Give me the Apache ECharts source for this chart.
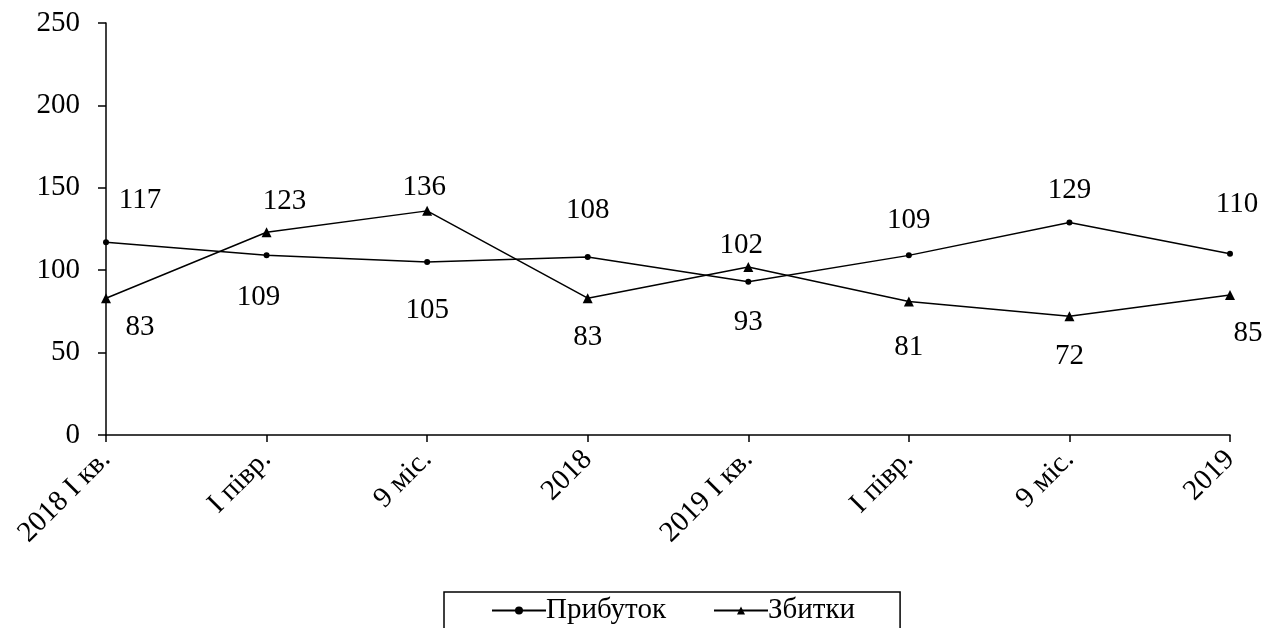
<!DOCTYPE html>
<html><head><meta charset="utf-8">
<script src="https://cdn.jsdelivr.net/npm/echarts@6/dist/echarts.min.js"></script>
<style>html,body{margin:0;padding:0;background:#fff}#c{width:1277px;height:628px}</style>
</head><body><div id="c"></div>
<script>
const categories = ['2018 I кв.', 'I півр.', '9 міс.', '2018', '2019 I кв.', 'I півр.', '9 міс.', '2019'];
const profit = [117, 109, 105, 108, 93, 109, 129, 110];
const losses = [83, 123, 136, 83, 102, 81, 72, 85];
const yTicks = { min: 0, max: 250, interval: 50 };
// label offsets (layout only)
const profitLabelOffsets = [[34,-42],[-8,42],[0,48],[0,-47],[0,41],[0,-35],[0,-32],[7,-49]];
const lossLabelOffsets = [[34,29],[18,-31],[-3,-23],[0,39],[-7,-22],[0,46],[0,40],[18,38]];

const FONT = 'Liberation Serif';
const FS = 29;
function mk(vals, offs) {
  return vals.map((v, i) => ({ value: v, label: { show: true, position: 'inside', offset: offs[i] } }));
}
const chart = echarts.init(document.getElementById('c'));
chart.setOption({
  animation: false,
  textStyle: { fontFamily: FONT, color: '#000' },
  grid: { left: 106, right: 47, top: 23, bottom: 193, containLabel: false },
  xAxis: {
    type: 'category', data: categories, boundaryGap: false,
    axisLine: { lineStyle: { color: '#000', width: 1.5 } },
    axisTick: { show: true, length: 7, alignWithLabel: true, lineStyle: { color: '#000', width: 1.5 } },
    axisLabel: { rotate: 45, fontSize: FS, color: '#000', fontFamily: FONT, margin: 20, interval: 0 }
  },
  yAxis: {
    type: 'value', min: yTicks.min, max: yTicks.max, interval: yTicks.interval,
    axisLine: { show: true, lineStyle: { color: '#000', width: 1.5 } },
    axisTick: { show: true, length: 8, lineStyle: { color: '#000', width: 1.5 } },
    splitLine: { show: false },
    axisLabel: { fontSize: FS, color: '#000', fontFamily: FONT, margin: 26 }
  },
  legend: {
    top: 592, left: 444, itemGap: 47, itemWidth: 54, itemHeight: 10,
    borderColor: '#000', borderWidth: 1.5, borderRadius: 0,
    padding: [4, 45, 4, 47],
    textStyle: { fontSize: FS, color: '#000', fontFamily: FONT, padding: [0, 0, 0, -5] },
    data: ['Прибуток', 'Збитки']
  },
  series: [
    {
      name: 'Прибуток', type: 'line', data: mk(profit, profitLabelOffsets),
      symbol: 'circle', symbolSize: 6, color: '#000',
      lineStyle: { color: '#000', width: 1.5 }, itemStyle: { color: '#000' },
      label: { fontSize: FS, color: '#000', fontFamily: FONT }
    },
    {
      name: 'Збитки', type: 'line', data: mk(losses, lossLabelOffsets),
      symbol: 'triangle', symbolSize: 10, color: '#000',
      lineStyle: { color: '#000', width: 1.5 }, itemStyle: { color: '#000' },
      label: { fontSize: FS, color: '#000', fontFamily: FONT }
    }
  ]
});
</script></body></html>
